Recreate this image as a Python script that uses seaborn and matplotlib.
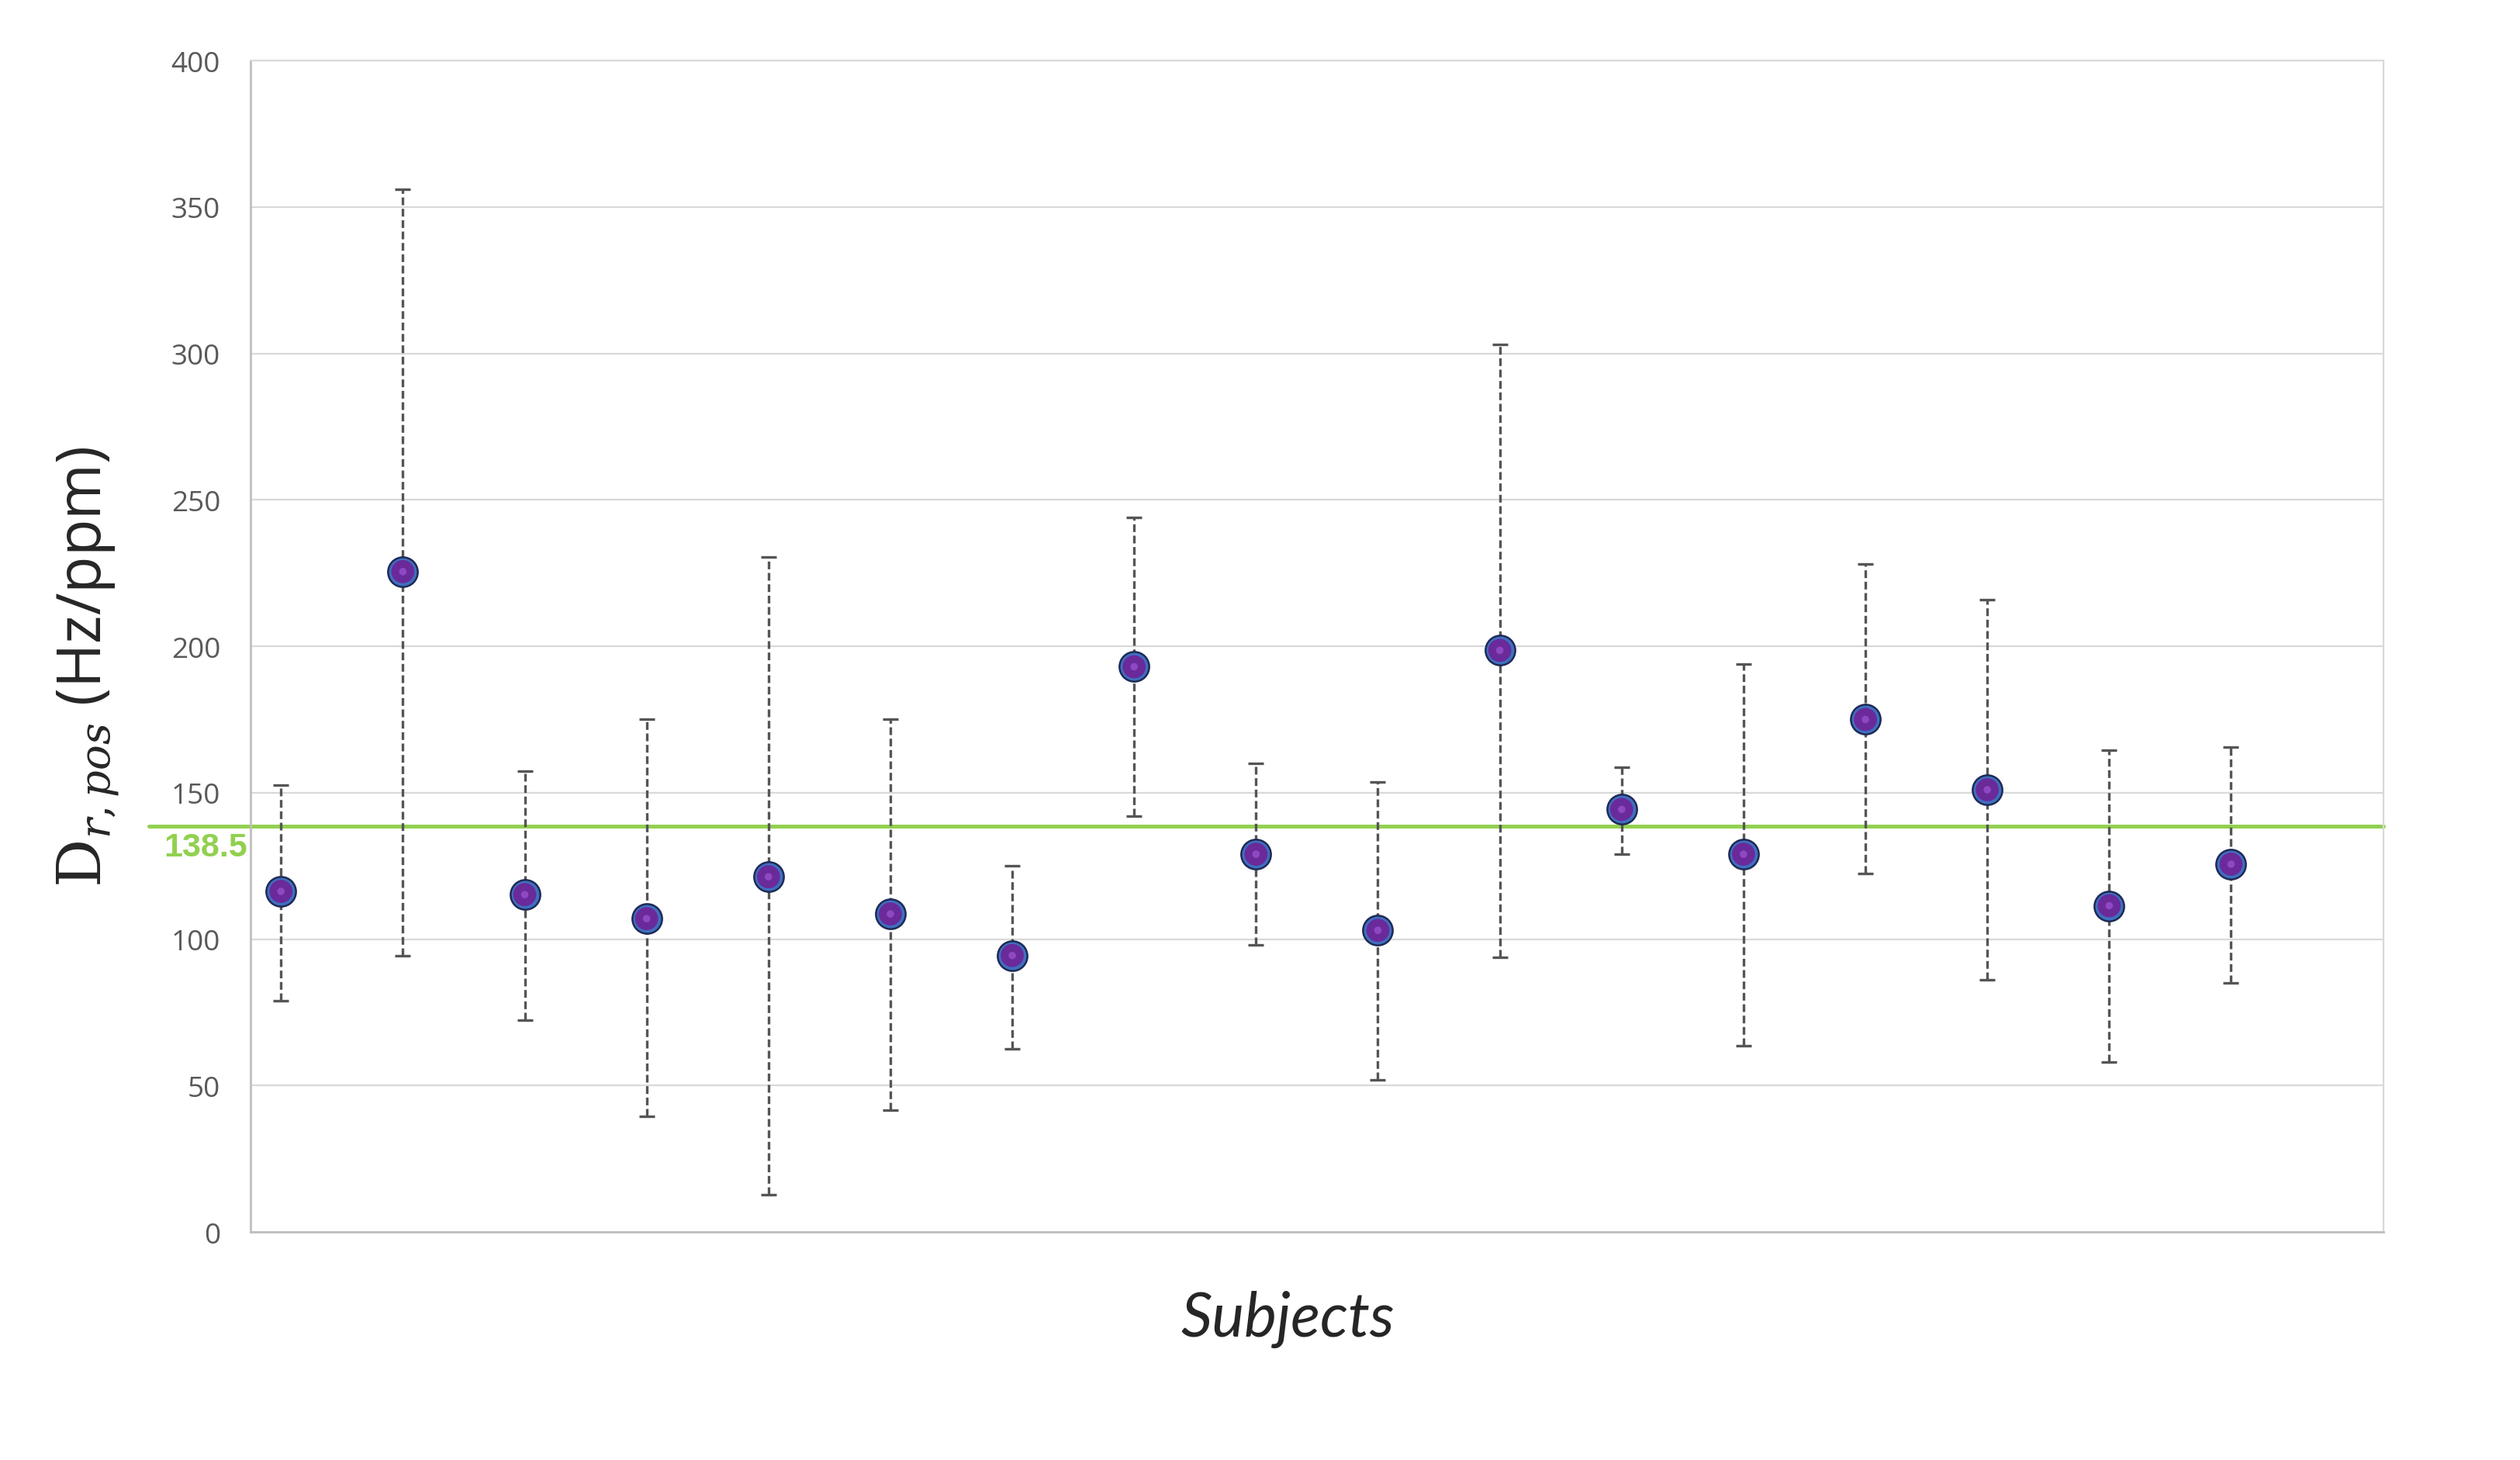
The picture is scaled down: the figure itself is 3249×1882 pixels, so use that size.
import numpy as np
import pandas as pd
import matplotlib
matplotlib.use("Agg")
import matplotlib.pyplot as plt
import seaborn as sns

# values
subjects = list(range(1, 18))
d_mean = [116.3, 225.5, 115.2, 107.0, 121.3, 108.6, 94.4, 193.0, 129.0,
          103.0, 198.6, 144.3, 129.0, 175.0, 151.0, 111.4, 125.6]
d_upper = [152.5, 356.0, 157.5, 175.0, 230.5, 175.0, 125.0, 244.0, 160.0,
           153.6, 303.0, 158.6, 194.0, 228.0, 216.0, 164.6, 165.7]
d_lower = [79.0, 94.4, 72.4, 39.5, 12.6, 41.7, 62.6, 142.0, 98.0,
           52.0, 93.8, 129.0, 63.6, 122.4, 86.0, 58.0, 85.0]
mean_level = 138.5
y_ticks = [0, 50, 100, 150, 200, 250, 300, 350, 400]

df = pd.DataFrame({'Subject': subjects, 'D': d_mean,
                   'upper': d_upper, 'lower': d_lower})

sns.set_style('white')
plt.rcParams['font.family'] = ['Open Sans', 'DejaVu Sans']
plt.rcParams['mathtext.fontset'] = 'dejavuserif'

fig = plt.figure(figsize=(16.245, 9.415), dpi=200)
ax = fig.add_axes([0.0994, 0.1561, 0.8464, 0.8019])

# error bars (dashed, dark grey)
yerr = np.array([df['D'] - df['lower'], df['upper'] - df['D']])
eb = ax.errorbar(df['Subject'], df['D'], yerr=yerr, fmt='none',
                 ecolor='#555555', elinewidth=1.2, capsize=3.6,
                 capthick=1.2, zorder=2)
for lc in eb[2]:
    lc.set_linestyle((0, (3.0, 1.4)))

# average line
ax.axhline(mean_level, xmin=-0.0475, xmax=1, color='#92D050', lw=1.8,
           clip_on=False, zorder=1.5)
ax.text(-0.0211, mean_level - 7, f'{mean_level}', transform=ax.get_yaxis_transform(),
        ha='center', va='center', color='#92D050', fontsize=15.5,
        fontweight='bold', family=['Liberation Sans', 'DejaVu Sans'])

# points: purple sphere with blue rim
sns.scatterplot(data=df, x='Subject', y='D', ax=ax, s=190, color='#3F6FC0',
                edgecolor='#1E2B55', linewidth=0.9, zorder=3, legend=False)
sns.scatterplot(data=df, x='Subject', y='D', ax=ax, s=115, color='#6A2A9A',
                edgecolor='none', linewidth=0, zorder=4, legend=False)
sns.scatterplot(data=df, x='Subject', y='D', ax=ax, s=12, color='#8D48C2',
                edgecolor='none', linewidth=0, zorder=5, legend=False)

ax.set_xlim(0.75, 18.25)
ax.set_ylim(0, 400)
ax.set_yticks(y_ticks)
ax.set_yticklabels([str(t) for t in y_ticks])
ax.set_xticks([])
ax.tick_params(axis='y', length=0, pad=14, labelsize=13.3, labelcolor='#595959')
ax.yaxis.grid(True, color='#D9D9D9', lw=0.8)
ax.set_axisbelow(True)
for side in ['left', 'bottom']:
    ax.spines[side].set_color('#BFBFBF')
    ax.spines[side].set_linewidth(1.0)
for side in ['top', 'right']:
    ax.spines[side].set_color('#D9D9D9')
    ax.spines[side].set_linewidth(0.8)

ax.set_xlabel('')
ax.set_ylabel('')
fig.text(1660 / 3249, 1 - 1701 / 1883, 'Subjects', ha='center', va='center',
         fontsize=28.5, style='italic', family=['Lato', 'DejaVu Sans'])
fig.text(114 / 3249, 1 - 860 / 1883, r'$\mathrm{D}_{r,pos}$ (Hz/ppm)',
         rotation=90, ha='center', va='center', fontsize=28,
         family=['Open Sans', 'DejaVu Sans'])

fig.savefig('out.png', dpi=200, facecolor='white')
